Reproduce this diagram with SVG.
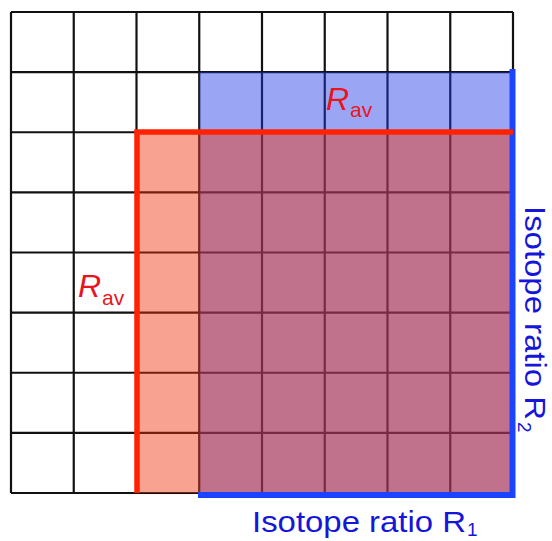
<svg xmlns="http://www.w3.org/2000/svg" width="552" height="541" viewBox="0 0 552 541">
<style>
.grid line{stroke:#111;stroke-width:2.2}
.rav{font-family:"Liberation Sans",Arial,sans-serif;fill:#e8141e}
.axis{font-family:"Liberation Sans",Arial,sans-serif;fill:#1616d8}
</style>
<rect width="552" height="541" fill="#fff"/>
<g id="grid" class="grid">
<line x1="11" y1="12" x2="11" y2="493"/>
<line x1="73.75" y1="12" x2="73.75" y2="493"/>
<line x1="136.5" y1="12" x2="136.5" y2="493"/>
<line x1="199.25" y1="12" x2="199.25" y2="493"/>
<line x1="262" y1="12" x2="262" y2="493"/>
<line x1="324.75" y1="12" x2="324.75" y2="493"/>
<line x1="387.5" y1="12" x2="387.5" y2="493"/>
<line x1="450.25" y1="12" x2="450.25" y2="493"/>
<line x1="513" y1="12" x2="513" y2="493"/>
<line x1="11" y1="12" x2="513" y2="12"/>
<line x1="11" y1="72.1" x2="513" y2="72.1"/>
<line x1="11" y1="132.25" x2="513" y2="132.25"/>
<line x1="11" y1="192.4" x2="513" y2="192.4"/>
<line x1="11" y1="252.5" x2="513" y2="252.5"/>
<line x1="11" y1="312.6" x2="513" y2="312.6"/>
<line x1="11" y1="372.75" x2="513" y2="372.75"/>
<line x1="11" y1="432.9" x2="513" y2="432.9"/>
<line x1="11" y1="493" x2="513" y2="493"/>
</g>
<g id="regions">
<rect id="region-r1" x="199.25" y="72.1" width="313.75" height="420.9" fill="rgb(30,57,230)" fill-opacity="0.45"/>
<rect id="region-r2" x="136.5" y="132.25" width="376.5" height="360.75" fill="rgb(240,48,13)" fill-opacity="0.45"/>
</g>
<g id="connectors" fill="none" stroke-linejoin="miter">
<polyline id="blue-border" points="198,495 512.5,495 512.5,69" stroke="#1a44ff" stroke-width="6"/>
<polyline id="red-border" points="137,493 137,132 513,132" stroke="#ff2200" stroke-width="5.5"/>
</g>
<g id="labels">
<text class="rav" x="326" y="110" font-size="32"><tspan font-style="italic">R</tspan><tspan font-size="21" dx="1" dy="7">av</tspan></text>
<text class="rav" x="78" y="297" font-size="32"><tspan font-style="italic">R</tspan><tspan font-size="21" dx="1" dy="8">av</tspan></text>
<text class="axis" x="252" y="532" font-size="30" textLength="214" lengthAdjust="spacingAndGlyphs">Isotope ratio R</text>
<text class="axis" x="467" y="536" font-size="19">1</text>
<g transform="translate(525,206) rotate(90)">
<text class="axis" x="0" y="0" font-size="29" textLength="214" lengthAdjust="spacingAndGlyphs">Isotope ratio R</text>
<text class="axis" x="216" y="7" font-size="19">2</text>
</g>
</g>
</svg>
